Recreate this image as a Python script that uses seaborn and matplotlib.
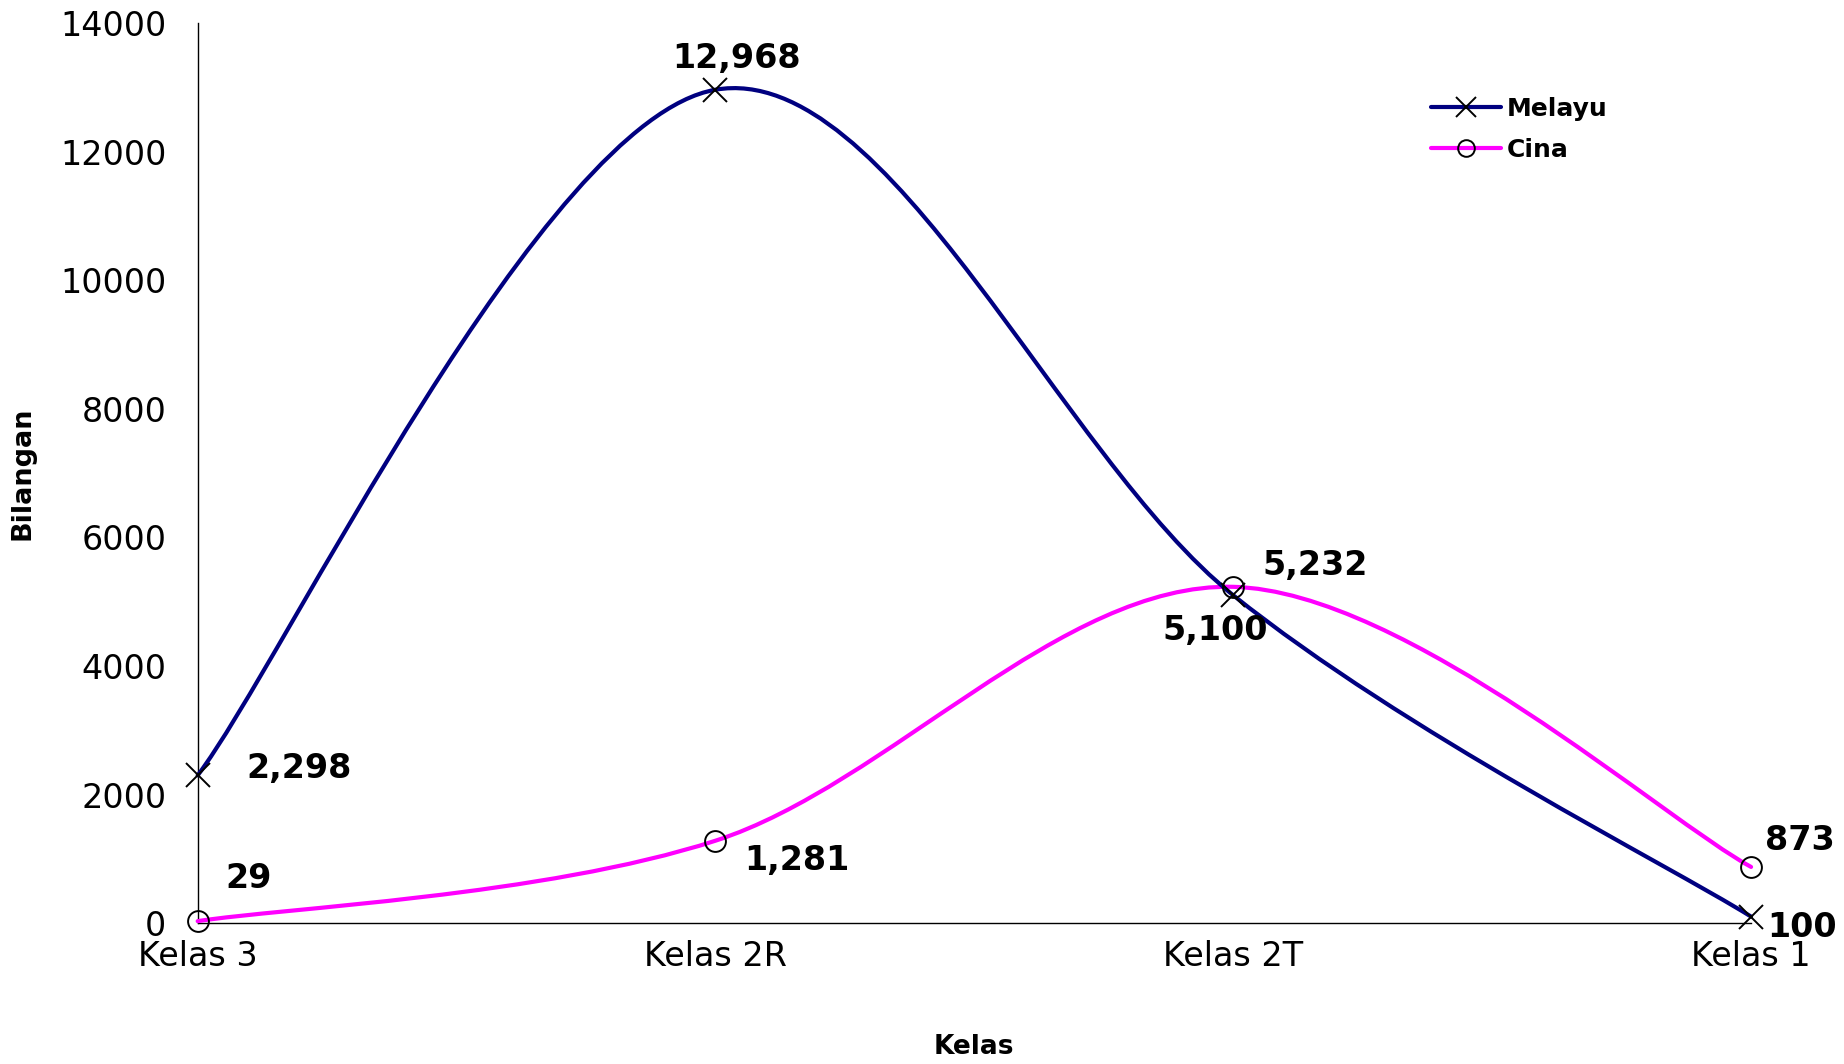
import numpy as np
import pandas as pd
import matplotlib
matplotlib.use("Agg")
import matplotlib.pyplot as plt
import seaborn as sns
from matplotlib.path import Path
from matplotlib.patches import PathPatch
from matplotlib.lines import Line2D

# ---- data ----
categories = ["Kelas 3", "Kelas 2R", "Kelas 2T", "Kelas 1"]
melayu = [2298, 12968, 5100, 100]
cina = [29, 1281, 5232, 873]
series_names = ["Melayu", "Cina"]
y_ticks = [0, 2000, 4000, 6000, 8000, 10000, 12000, 14000]

sns.set_theme(style="white")
plt.rcParams["font.family"] = ["DejaVu Sans"]

fig = plt.figure(figsize=(18.44, 10.64), dpi=100)
ax = fig.add_axes([0.1072, 0.1325, 0.8424, 0.8455])

pos = np.arange(len(categories))

def smooth_path(xs, ys):
    # Excel-style smoothing: cubic Bezier with Catmull-Rom tangents
    pts = np.column_stack([xs, ys]).astype(float)
    n = len(pts)
    verts = [tuple(pts[0])]
    codes = [Path.MOVETO]
    for i in range(n - 1):
        p0 = pts[i - 1] if i > 0 else pts[i]
        p1 = pts[i]
        p2 = pts[i + 1]
        p3 = pts[i + 2] if i + 2 < n else pts[i + 1]
        c1 = p1 + (p2 - p0) / 6.0
        c2 = p2 - (p3 - p1) / 6.0
        verts += [tuple(c1), tuple(c2), tuple(p2)]
        codes += [Path.CURVE4] * 3
    return Path(verts, codes)

colors = {"Melayu": "#000080", "Cina": "#FF00FF"}
markers = {"Melayu": "x", "Cina": "o"}
values = {"Melayu": melayu, "Cina": cina}

for name in ["Cina", "Melayu"]:
    patch = PathPatch(smooth_path(pos, values[name]), facecolor="none",
                      edgecolor=colors[name], lw=3.0, clip_on=False,
                      capstyle="round", joinstyle="round", zorder=3)
    ax.add_patch(patch)

for name in ["Cina", "Melayu"]:
    df = pd.DataFrame({"x": pos, "y": values[name]})
    ms = 17 if name == "Melayu" else 15
    sns.lineplot(data=df, x="x", y="y", ax=ax, linestyle="none",
                 marker=markers[name], markersize=ms, markerfacecolor="none",
                 markeredgecolor="black", markeredgewidth=1.4,
                 clip_on=False, zorder=4, legend=False)

ax.set_xlim(0, len(categories) - 1)
ax.set_ylim(0, 14000)
ax.set_xticks(pos)
ax.set_xticklabels(categories)
ax.set_yticks(y_ticks)
ax.set_yticklabels([str(v) for v in y_ticks])

for s in ["top", "right"]:
    ax.spines[s].set_visible(False)
for s in ["left", "bottom"]:
    ax.spines[s].set_color("black")
    ax.spines[s].set_linewidth(1.0)

ax.tick_params(axis="both", which="major", direction="inout", length=17,
               width=1.0, color="black", labelsize=24, labelcolor="black")
ax.tick_params(axis="y", pad=14)
ax.tick_params(axis="x", pad=4)

ax.set_xlabel("Kelas", fontsize=19, fontweight="bold", labelpad=44, color="black")
ax.set_ylabel("Bilangan", fontsize=19.5, fontweight="bold", labelpad=18, color="black")
ax.grid(False)

# data labels (offset in pixels)
offsets_m = [(101, 7), (21, 31), (-18, -35), (51, -11)]
offsets_c = [(51, 43), (81, -20), (82, 21), (49, 26)]
for vals, offs in [(melayu, offsets_m), (cina, offsets_c)]:
    for xi, v, (dx, dy) in zip(pos, vals, offs):
        ax.annotate(f"{v:,}", (xi, v), xytext=(dx, dy), textcoords="offset pixels",
                    ha="center", va="center", fontsize=24, fontweight="bold",
                    color="black", annotation_clip=False, zorder=5)

handles = [
    Line2D([], [], color=colors["Melayu"], lw=3.0, marker="x", markersize=15,
           markerfacecolor="none", markeredgecolor="black", markeredgewidth=1.4),
    Line2D([], [], color=colors["Cina"], lw=3.0, marker="o", markersize=12,
           markerfacecolor="none", markeredgecolor="black", markeredgewidth=1.4),
]
leg = fig.legend(handles, series_names, loc="upper left",
                 bbox_to_anchor=(0.776, 0.909), frameon=False,
                 prop={"size": 18, "weight": "bold"}, handlelength=2.8,
                 handletextpad=0.25, labelspacing=0.68, borderpad=0,
                 borderaxespad=0, labelcolor="black")

fig.savefig("out.png", dpi=100)
